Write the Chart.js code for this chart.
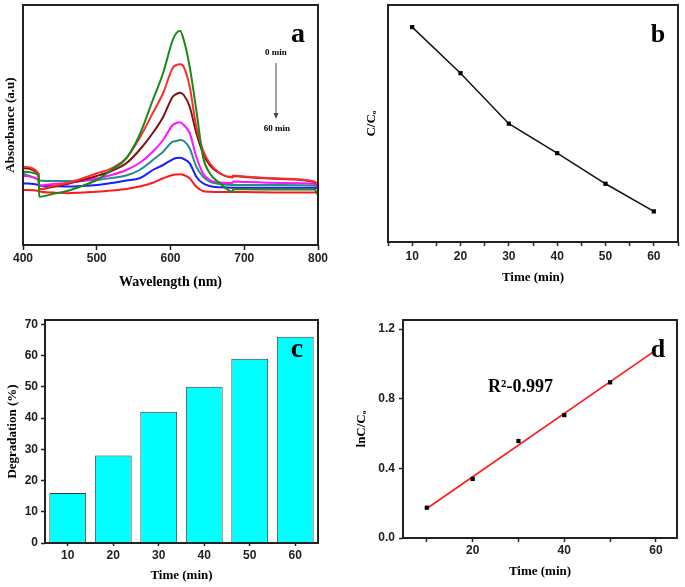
<!DOCTYPE html>
<html>
<head>
<meta charset="utf-8">
<script src="https://cdn.jsdelivr.net/npm/chart.js@4.4.1/dist/chart.umd.min.js"></script>
<style>
  body { margin: 0; background: #fff; }
  .wrap { position: relative; width: 685px; height: 587px; background: #fff; }
  canvas { position: absolute; }
</style>
</head>
<body>
<div class="wrap">
  <canvas id="spectra" width="330" height="300" style="left:0;top:0"></canvas>
  <canvas id="ratio" width="345" height="300" style="left:340px;top:0"></canvas>
  <canvas id="degr" width="330" height="287" style="left:0;top:300px"></canvas>
  <canvas id="kinetic" width="345" height="287" style="left:340px;top:300px"></canvas>
</div>
<script>
// (a) UV-vis spectra, one curve per irradiation time
var wavelengths = [400, 421, 422, 440, 460, 480, 500, 520, 540, 558, 576, 590, 603, 608, 613, 618, 626, 635, 644, 653, 667, 684, 685, 700, 750, 795, 800];
var abs0min  = [0.733, 0.700, 0.483, 0.510, 0.540, 0.590, 0.650, 0.750, 0.867, 1.100, 1.450, 1.720, 2.050, 2.120, 2.143, 2.050, 1.783, 1.350, 0.883, 0.720, 0.617, 0.533, 0.557, 0.557, 0.555, 0.555, 0.500];
var abs10min = [0.783, 0.717, 0.557, 0.590, 0.620, 0.665, 0.717, 0.767, 0.867, 1.067, 1.320, 1.520, 1.770, 1.800, 1.807, 1.780, 1.583, 1.183, 0.950, 0.820, 0.720, 0.680, 0.695, 0.685, 0.665, 0.635, 0.600];
var abs20min = [0.767, 0.710, 0.557, 0.580, 0.610, 0.650, 0.690, 0.740, 0.817, 0.950, 1.120, 1.280, 1.483, 1.510, 1.523, 1.500, 1.383, 1.120, 0.920, 0.800, 0.715, 0.675, 0.690, 0.680, 0.660, 0.630, 0.600];
var abs30min = [0.690, 0.650, 0.595, 0.610, 0.620, 0.640, 0.665, 0.700, 0.750, 0.820, 0.933, 1.050, 1.200, 1.220, 1.227, 1.200, 1.120, 0.883, 0.717, 0.650, 0.625, 0.620, 0.635, 0.630, 0.620, 0.610, 0.580];
var abs40min = [0.717, 0.650, 0.645, 0.640, 0.640, 0.645, 0.650, 0.670, 0.695, 0.750, 0.850, 0.933, 1.033, 1.040, 1.050, 1.040, 0.967, 0.783, 0.683, 0.633, 0.610, 0.600, 0.600, 0.600, 0.600, 0.595, 0.570];
var abs50min = [0.617, 0.600, 0.595, 0.590, 0.585, 0.590, 0.600, 0.620, 0.645, 0.667, 0.750, 0.800, 0.857, 0.870, 0.873, 0.860, 0.817, 0.683, 0.617, 0.590, 0.577, 0.573, 0.573, 0.573, 0.573, 0.573, 0.565];
var abs60min = [0.550, 0.540, 0.535, 0.525, 0.517, 0.525, 0.533, 0.545, 0.560, 0.585, 0.623, 0.667, 0.700, 0.705, 0.707, 0.700, 0.667, 0.583, 0.540, 0.533, 0.530, 0.530, 0.530, 0.530, 0.525, 0.525, 0.520];
var spectraColors = ['#178a17', '#ff2d2d', '#7d1212', '#ff14ff', '#1f8f88', '#1c1cff', '#ff1a1a'];

// (b) C/Co vs time
var timeMin = [10, 20, 30, 40, 50, 60];
var ratioC = [0.84, 0.715, 0.578, 0.498, 0.415, 0.340];

// (c) degradation %
var timeLabels = ['10', '20', '30', '40', '50', '60'];
var degradation = [16, 28, 42, 50, 59, 66];

// (d) ln(C/Co) with linear fit
var lnTime = [10, 20, 30, 40, 50];
var lnRatio = [0.174, 0.339, 0.557, 0.706, 0.894];
var fitTime = [10, 60];
var fitLn = [0.170, 1.079];

var dark = '#222';
var tickFont = {family: 'Liberation Sans', size: 12, weight: 'bold'};
var serif = 'Liberation Serif';

function pts(xs, ys) {
    return xs.map(function(x, i) { return {x: x, y: ys[i]}; });
}

// box round the plot area, like the Origin frame
var frame = {
    id: 'frame',
    afterDatasetsDraw: function(chart) {
        var a = chart.chartArea, c = chart.ctx;
        c.save();
        c.strokeStyle = dark;
        c.lineWidth = 2;
        c.strokeRect(a.left, a.top, a.right - a.left, a.bottom - a.top);
        c.restore();
    }
};

// free text on a panel (panel letter, notes)
function notes(list, extra) {
    return {
        id: 'notes',
        afterDraw: function(chart) {
            var c = chart.ctx;
            c.save();
            c.fillStyle = '#000';
            c.textBaseline = 'alphabetic';
            list.forEach(function(n) {
                c.font = n.font;
                c.textAlign = n.align || 'center';
                c.fillText(n.text, n.x, n.y);
            });
            if (extra) extra(c);
            c.restore();
        }
    };
}

function xTitle(text, size, pad) {
    return {display: true, text: text, color: '#000', font: {family: serif, size: size, weight: 'bold'}, padding: {top: 0, bottom: pad}};
}
function yTitle(text, size, pad) {
    return {display: true, text: text, color: '#000', font: {family: serif, size: size, weight: 'bold'}, padding: {top: pad, bottom: 0}};
}
function tickGrid(len) {
    return {display: true, drawOnChartArea: false, drawTicks: true, tickLength: len, tickColor: dark, tickWidth: 1.5};
}

Chart.defaults.animation = false;
Chart.defaults.responsive = false;
Chart.defaults.plugins.legend.display = false;
Chart.defaults.plugins.tooltip.enabled = false;

// ---- a ----
var spectraSeries = [abs0min, abs10min, abs20min, abs30min, abs40min, abs50min, abs60min];
new Chart(document.getElementById('spectra'), {
    type: 'line',
    data: {
        datasets: spectraSeries.map(function(s, i) {
            return {
                data: pts(wavelengths, s),
                borderColor: spectraColors[i],
                borderWidth: 2,
                pointRadius: 0,
                cubicInterpolationMode: 'monotone',
                fill: false
            };
        })
    },
    options: {
        layout: {padding: {top: 5, right: 12, left: 0, bottom: 0}},
        scales: {
            x: {
                type: 'linear', min: 400, max: 800,
                ticks: {stepSize: 100, color: dark, font: tickFont, padding: 1, maxRotation: 0},
                grid: tickGrid(5),
                border: {display: false},
                title: xTitle('Wavelength (nm)', 14, 9),
                afterFit: function(s) { s.height = 55; }
            },
            y: {
                min: 0, max: 2.4,
                ticks: {display: false},
                grid: {display: false},
                border: {display: false},
                title: yTitle('Absorbance (a.u)', 13, 3),
                afterFit: function(s) { s.width = 23; }
            }
        }
    },
    plugins: [frame, notes([
        {text: 'a', x: 298, y: 42, font: 'bold 28px "Liberation Serif"'},
        {text: '0 min', x: 276, y: 55, font: 'bold 9px "Liberation Serif"'},
        {text: '60 min', x: 277, y: 131, font: 'bold 9px "Liberation Serif"'}
    ], function(c) {
        c.strokeStyle = '#444';
        c.lineWidth = 1;
        c.beginPath();
        c.moveTo(276, 63);
        c.lineTo(276, 117);
        c.stroke();
        c.fillStyle = '#444';
        c.beginPath();
        c.moveTo(273.5, 113);
        c.lineTo(278.5, 113);
        c.lineTo(276, 119);
        c.closePath();
        c.fill();
    })]
});

// ---- b ----
new Chart(document.getElementById('ratio'), {
    type: 'line',
    data: {
        datasets: [{
            data: pts(timeMin, ratioC),
            borderColor: '#111',
            borderWidth: 1.5,
            pointStyle: 'rect',
            pointRadius: 3,
            pointBackgroundColor: '#000',
            pointBorderColor: '#000',
            pointBorderWidth: 0,
            tension: 0
        }]
    },
    options: {
        layout: {padding: {top: 5, right: 7, left: 0, bottom: 0}},
        scales: {
            x: {
                type: 'linear', min: 5, max: 65,
                ticks: {
                    stepSize: 5, color: dark, font: tickFont, padding: 3, maxRotation: 0, autoSkip: false,
                    callback: function(v) { return v % 10 === 0 ? v : ''; }
                },
                grid: tickGrid(4),
                border: {display: false},
                title: xTitle('Time (min)', 13, 15),
                afterFit: function(s) { s.height = 58; }
            },
            y: {
                min: 0.257, max: 0.90,
                ticks: {display: false},
                grid: {display: false},
                border: {display: false},
                title: yTitle('C/C\u2092', 13, 24),
                afterFit: function(s) { s.width = 48; }
            }
        }
    },
    plugins: [frame, notes([
        {text: 'b', x: 318, y: 42, font: 'bold 26px "Liberation Serif"'}
    ])]
});

// ---- c ----
new Chart(document.getElementById('degr'), {
    type: 'bar',
    data: {
        labels: timeLabels,
        datasets: [{
            data: degradation,
            backgroundColor: '#00ffff',
            borderColor: '#3a3a3a',
            borderWidth: 1,
            categoryPercentage: 1,
            barPercentage: 0.81
        }]
    },
    options: {
        layout: {padding: {top: 20, right: 12, left: 0, bottom: 0}},
        scales: {
            x: {
                ticks: {color: dark, font: tickFont, padding: 2, maxRotation: 0},
                grid: Object.assign(tickGrid(3), {offset: false}),
                border: {display: false},
                title: xTitle('Time (min)', 13, 4),
                afterFit: function(s) { s.height = 44; }
            },
            y: {
                min: 0, max: 71.4,
                ticks: {stepSize: 10, includeBounds: false, color: dark, font: tickFont, padding: 3},
                grid: tickGrid(4),
                border: {display: false},
                title: yTitle('Degradation (%)', 13, 5),
                afterFit: function(s) { s.width = 45; }
            }
        }
    },
    plugins: [frame, notes([
        {text: 'c', x: 297, y: 57, font: 'bold 28px "Liberation Serif"'}
    ])]
});

// ---- d ----
new Chart(document.getElementById('kinetic'), {
    type: 'line',
    data: {
        datasets: [{
            data: pts(fitTime, fitLn),
            borderColor: '#ff1f1f',
            borderWidth: 1.8,
            pointRadius: 0,
            order: 2
        }, {
            data: pts(lnTime, lnRatio),
            showLine: false,
            pointStyle: 'rect',
            pointRadius: 3,
            pointBackgroundColor: '#000',
            pointBorderColor: '#000',
            pointBorderWidth: 0,
            order: 1
        }]
    },
    options: {
        layout: {padding: {top: 20, right: 8, left: 0, bottom: 0}},
        scales: {
            x: {
                type: 'linear', min: 4.8, max: 64.6,
                ticks: {
                    stepSize: 10, includeBounds: false, color: dark, font: tickFont, padding: 1, maxRotation: 0, autoSkip: false,
                    callback: function(v) { return v % 20 === 0 ? v : ''; }
                },
                grid: tickGrid(4),
                border: {display: false},
                title: xTitle('Time (min)', 13, 8),
                afterFit: function(s) { s.height = 49; }
            },
            y: {
                min: 0, max: 1.252,
                ticks: {
                    stepSize: 0.4, includeBounds: false, color: dark, font: tickFont, padding: 4,
                    callback: function(v) { return v.toFixed(1); }
                },
                grid: tickGrid(4),
                border: {display: false},
                title: yTitle('lnC/C\u2092', 13, 14),
                afterFit: function(s) { s.width = 63; }
            }
        }
    },
    plugins: [frame, notes([
        {text: 'd', x: 318, y: 57, font: 'bold 26px "Liberation Serif"'},
        {text: 'R\u00b2-0.997', x: 148, y: 92, align: 'left', font: 'bold 18px "Liberation Serif"'}
    ])]
});
</script>
</body>
</html>
